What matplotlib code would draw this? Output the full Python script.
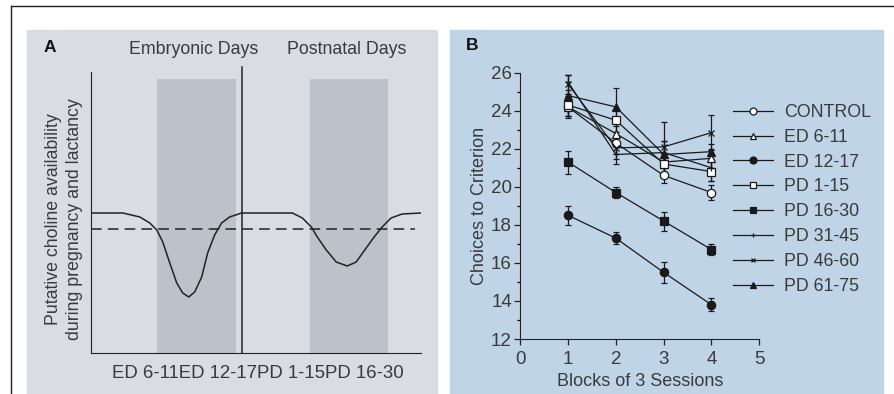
import matplotlib
matplotlib.use("Agg")
import matplotlib.pyplot as plt
from matplotlib.lines import Line2D
from matplotlib.patches import Rectangle

plt.rcParams['font.family'] = ['Liberation Sans', 'DejaVu Sans']
plt.rcParams['font.size'] = 12

W, H = 895, 394
TXT = '#3a3a3a'

# ---- panel A: schematic choline curve (axes units)
curve_x = [0, 32, 49, 59, 66, 72, 79, 86, 92, 98, 104, 111, 117, 124, 131, 139, 151,
           202, 212, 221, 227, 236, 246, 257, 266, 276, 284, 292, 301, 312, 331]
curve_y = [140, 140, 136, 130, 123, 111, 90, 70, 60, 56, 61, 76, 100, 118, 130, 136, 140,
           140, 135, 126, 116, 103, 91, 87, 91, 105, 116, 126, 135, 139, 140]
baseline = 124
bands = [(66, 145), (220, 298)]
period_labels = ['Embryonic Days', 'Postnatal Days']
window_label = 'ED 6-11ED 12-17PD 1-15PD 16-30'

# ---- panel B: choices to criterion
blocks = [1, 2, 3, 4]
groups = ['CONTROL', 'ED 6-11', 'ED 12-17', 'PD 1-15', 'PD 16-30',
          'PD 31-45', 'PD 46-60', 'PD 61-75']
means = {
    'CONTROL':  [24.2, 22.3, 20.6, 19.7],
    'ED 6-11':  [24.2, 22.8, 21.3, 21.5],
    'ED 12-17': [18.5, 17.3, 15.5, 13.8],
    'PD 1-15':  [24.3, 23.5, 21.2, 20.8],
    'PD 16-30': [21.3, 19.7, 18.2, 16.7],
    'PD 31-45': [25.5, 21.7, 21.8, 21.0],
    'PD 46-60': [25.4, 22.05, 22.1, 22.85],
    'PD 61-75': [24.8, 24.2, 21.7, 21.85],
}
errs = {
    'CONTROL':  [0.5, 0.6, 0.4, 0.4],
    'ED 6-11':  [0.6, 0.7, 0.5, 0.5],
    'ED 12-17': [0.5, 0.3, 0.55, 0.35],
    'PD 1-15':  [0.6, 0.6, 0.5, 0.5],
    'PD 16-30': [0.6, 0.3, 0.5, 0.3],
    'PD 31-45': [0.4, 0.5, 0.6, 0.7],
    'PD 46-60': [0.5, 0.6, 1.3, 0.9],
    'PD 61-75': [1.1, 1.0, 0.7, 0.4],
}
styles = {
    'CONTROL':  dict(marker='o', mfc='white'),
    'ED 6-11':  dict(marker='^', mfc='white'),
    'ED 12-17': dict(marker='o', mfc='#1a1a1a'),
    'PD 1-15':  dict(marker='s', mfc='white'),
    'PD 16-30': dict(marker='s', mfc='#1a1a1a'),
    'PD 31-45': dict(marker='+', mfc='#1a1a1a'),
    'PD 46-60': dict(marker='x', mfc='#1a1a1a'),
    'PD 61-75': dict(marker='^', mfc='#1a1a1a'),
}


def fx(px):
    return px / W


def fy(py):
    return 1 - py / H


fig = plt.figure(figsize=(W / 100, H / 100), dpi=100)

# frame lines and panel backgrounds
fig.add_artist(Line2D([fx(11), 1], [fy(6), fy(6)], color='#222', lw=1))
fig.add_artist(Line2D([fx(11), fx(11)], [fy(6), 0], color='#222', lw=1))
fig.add_artist(Rectangle((fx(27), 0), fx(437) - fx(27), fy(30), color='#d9dce3', zorder=-5))
fig.add_artist(Rectangle((fx(450), 0), fx(883) - fx(450), fy(30), color='#c0d4e8', zorder=-5))

# ---------------- panel A
axA = fig.add_axes([fx(91), fy(353), fx(421) - fx(91), fy(72) - fy(353)])
axA.set_facecolor('none')
axA.set_xlim(0, 331)
axA.set_ylim(0, 281)
for a, b in bands:
    axA.add_patch(Rectangle((a, 0), b - a, 274, color='#bcc1ca', lw=0))
axA.plot(curve_x, curve_y, color='#222', lw=1.1)
axA.plot([0, 325], [baseline, baseline], color='#222', lw=1.1, dashes=(7, 4))
axA.plot([151, 151], [0, 286], color='#222', lw=1.1, clip_on=False)
for s in ['top', 'right']:
    axA.spines[s].set_visible(False)
for s in ['left', 'bottom']:
    axA.spines[s].set_color('#222')
axA.set_xticks([])
axA.set_yticks([])

fig.text(fx(44), fy(47), 'A', fontweight='bold', fontsize=12.5, va='center', color='#111')
fig.text(fx(194), fy(50), period_labels[0], ha='center', va='center', color=TXT, fontsize=12.8)
fig.text(fx(347), fy(50), period_labels[1], ha='center', va='center', color=TXT, fontsize=12.8)
fig.text(fx(258), fy(374), window_label, ha='center', va='center', color=TXT, fontsize=13.4)
fig.text(fx(64), fy(219), 'Putative choline availability\nduring pregnancy and lactancy',
         rotation=90, ha='center', va='center', color=TXT, fontsize=12.8, linespacing=1.3)

# ---------------- panel B
axB = fig.add_axes([fx(520.3), fy(339), fx(759.3) - fx(520.3), fy(72.7) - fy(339)])
axB.set_facecolor('none')
for g in groups:
    st = styles[g]
    axB.errorbar(blocks, means[g], yerr=errs[g], color='#1a1a1a', lw=0.9,
                 elinewidth=0.9, capsize=2.5, capthick=0.9,
                 marker=st['marker'], mfc=st['mfc'], mec='#1a1a1a',
                 ms=6 if st['marker'] not in '+x' else 4, mew=0.9)
axB.set_xlim(0, 5)
axB.set_ylim(12, 26)
axB.set_xticks(range(0, 6))
axB.set_yticks(range(12, 27, 2))
axB.set_yticks(range(13, 26, 2), minor=True)
for s in ['top', 'right']:
    axB.spines[s].set_visible(False)
for s in ['left', 'bottom']:
    axB.spines[s].set_color('#222')
axB.tick_params(colors='#222', labelcolor=TXT, labelsize=13.5, length=4, width=0.9)
axB.tick_params(axis='x', pad=5)
axB.tick_params(axis='y', pad=2)
axB.tick_params(which='minor', length=2.5, width=0.9)
axB.set_xlabel('Blocks of 3 Sessions', color=TXT, fontsize=13, labelpad=3)
axB.set_ylabel('Choices to Criterion', color=TXT, fontsize=13, labelpad=2)

fig.text(fx(466), fy(45), 'B', fontweight='bold', fontsize=12.5, va='center', color='#111')

handles = []
for g in groups:
    st = styles[g]
    handles.append(Line2D([], [], color='#1a1a1a', lw=0.9, marker=st['marker'],
                          mfc=st['mfc'], mec='#1a1a1a',
                          ms=5 if st['marker'] not in '+x' else 3.5, mew=0.9))
fig.legend(handles, groups, loc='upper left', bbox_to_anchor=(fx(733), fy(104)),
           frameon=False, fontsize=12.8, handlelength=2.25, handletextpad=0.6,
           labelspacing=0.44, borderpad=0, borderaxespad=0, labelcolor=TXT)

fig.savefig('out.png', dpi=100)
